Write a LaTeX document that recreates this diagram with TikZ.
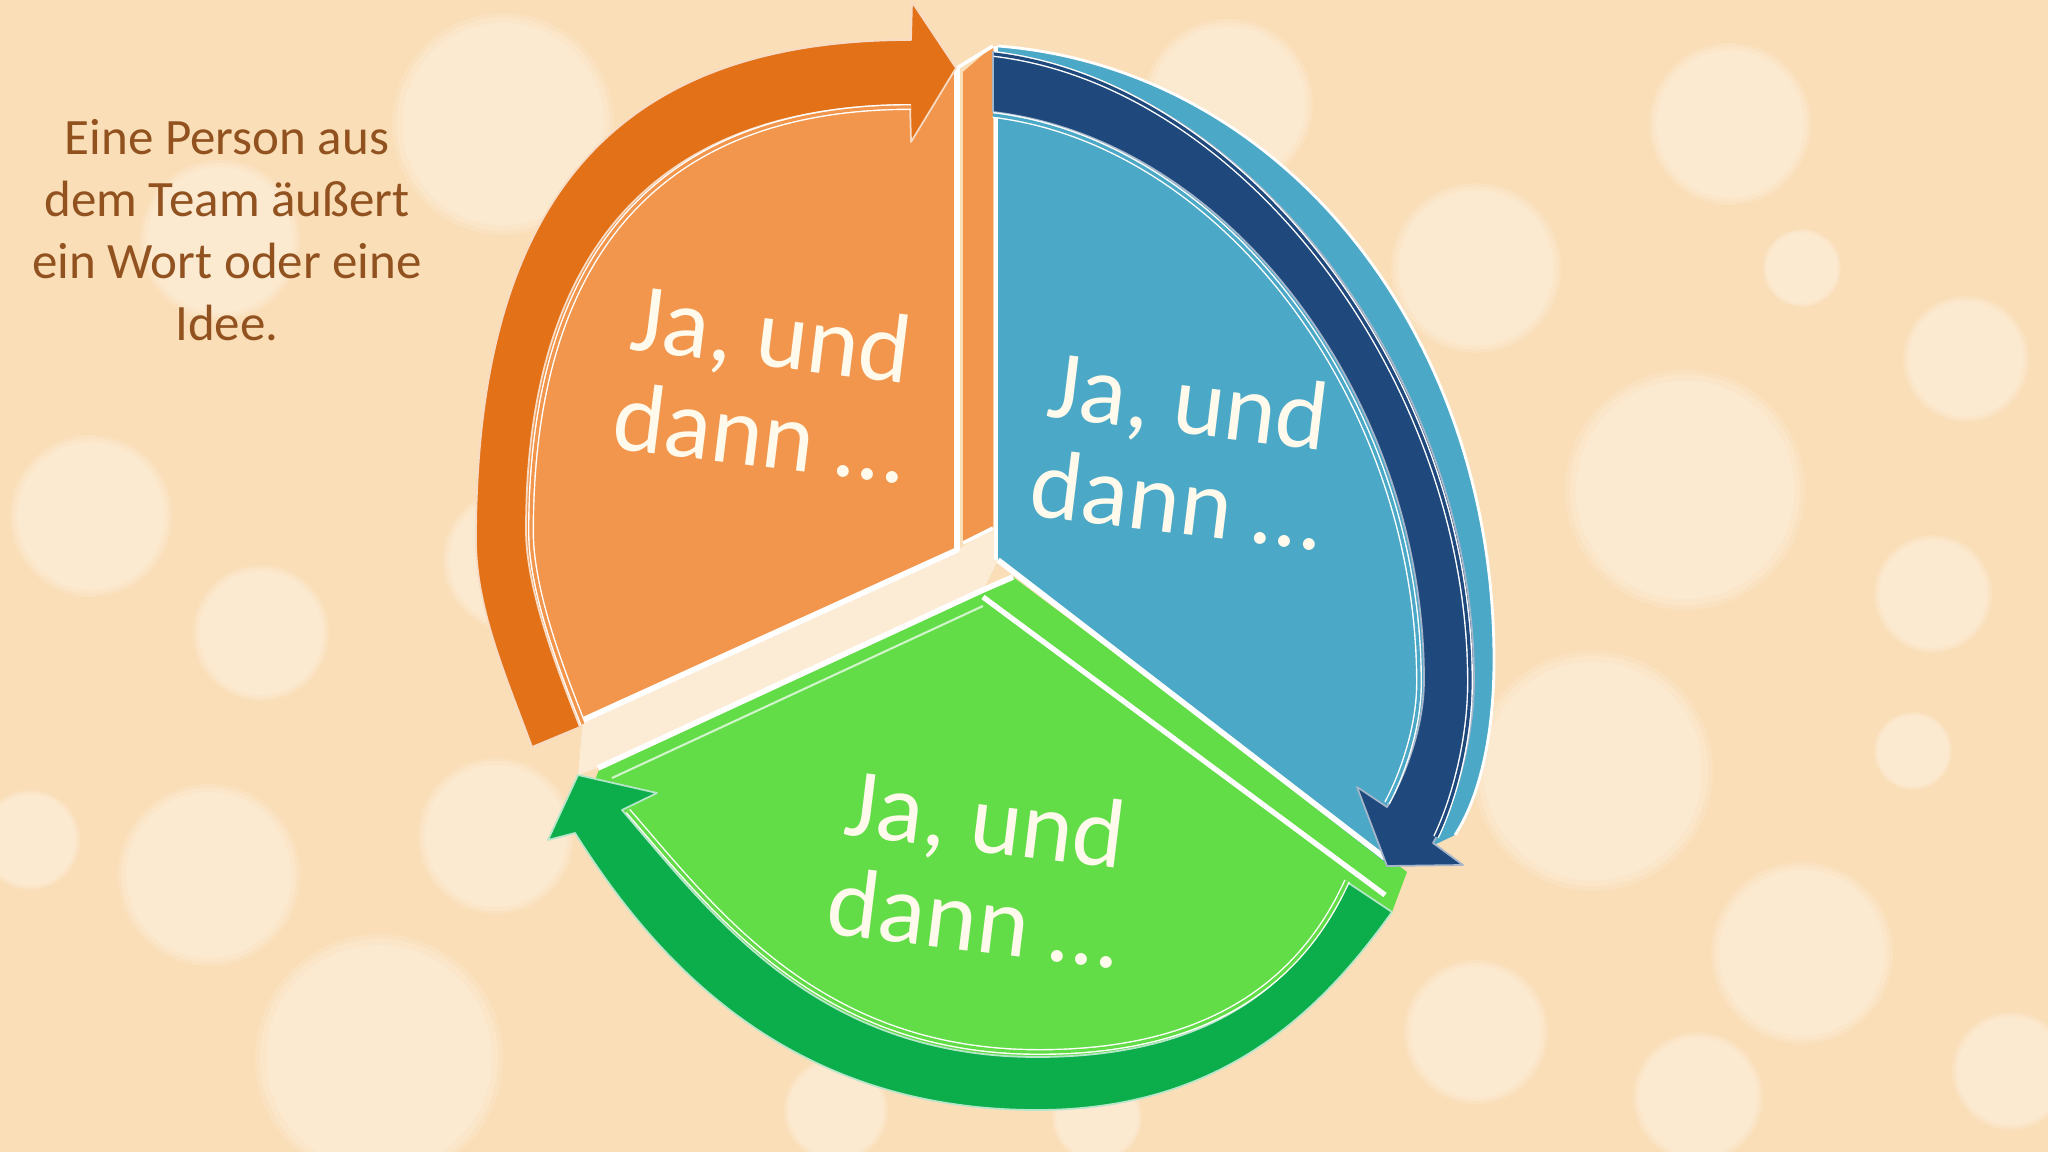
\documentclass[tikz,border=0pt]{standalone}
\usepackage{fontspec}
\setmainfont{Carlito}
\definecolor{bg}{RGB}{250,222,183}
\definecolor{bubble}{RGB}{253,238,218}
\definecolor{gapcream}{RGB}{252,236,214}
\definecolor{orface}{RGB}{241,150,76}
\definecolor{orarrow}{RGB}{226,113,24}
\definecolor{blface}{RGB}{75,168,198}
\definecolor{blarrow}{RGB}{31,73,125}
\definecolor{grface}{RGB}{98,221,72}
\definecolor{grarrow}{RGB}{12,173,75}
\definecolor{txtbrown}{RGB}{145,82,32}
\definecolor{txtcream}{RGB}{255,250,236}
\tikzset{
  jatext/.style={font=\fontsize{28}{28.5}\selectfont, text=txtcream, align=center, inner sep=0pt, rotate=-7},
  infotext/.style={font=\fontsize{14.5}{17.6}\selectfont, text=txtbrown, align=center, inner sep=0pt},
  bevel/.style={draw=white, line width=1.6pt},
  dbl/.style={draw=white, line width=0.4pt, double distance=0.9pt}
}
\begin{document}
\begin{tikzpicture}[x=0.01cm, y=-0.01cm, line join=round]
\useasboundingbox (0,0) rectangle (2048,1152);
\fill[bg] (0,0) rectangle (2048,1152);
% bokeh bubbles
\foreach \bx/\by/\br in {503/124/111, 220/240/80, 91/516/81, 261/633/68, 209/875/91, 379/1058/124, 496/836/78, 515/560/72, 1228/104/85, 1476/268/85, 1730/124/81, 1802/268/39, 1966/359/63, 1685/490/120, 1933/594/59, 1593/771/120, 1913/751/39, 1802/953/91, 1476/1032/72, 1698/1097/65, 2011/1071/59, 836/1110/52, 1097/1117/45, 30/840/50}{
  \fill[bubble, opacity=0.3] (\bx,\by) circle[radius=\br];
  \fill[bubble, opacity=0.35] (\bx,\by) circle[radius={0.96*\br}];
  \fill[bubble, opacity=0.45] (\bx,\by) circle[radius={0.91*\br}];
}
% cream gap between orange and green
\fill[gapcream] (583,720) -- (957,550) -- (993,528) -- (998,560) -- (983,590) -- (600,767) -- (578,775) -- cycle;

% ---------- orange segment ----------
\fill[orface] (532,747) .. controls (508,681) and (476,610) .. (476,540) .. controls (476,200) and (615,40) .. (911,40) -- (957,68) -- (957,550) -- (583,720) -- cycle;
\fill[orface] (963,72) -- (993,46) -- (993,528) -- (963,543) -- cycle;
\draw[bevel] (583,720) -- (957,550) -- (957,68);
\draw[draw=white, line width=1pt] (957,68) -- (993,46);
\draw[draw=white, line width=1pt] (963,543) -- (993,528);
\fill[orarrow, draw=white!75!orarrow, line width=0.5pt] (532,747) .. controls (508,681) and (476,610) .. (476,540) .. controls (476,200) and (615,40) .. (911,40) -- (912,2) -- (956,68) -- (911,142) -- (910,105) .. controls (657,105) and (526,250) .. (526,530) .. controls (526,590) and (558,671) .. (580,727) -- cycle;
\draw[dbl, double=orface, shift={(5,2)}] (906,105) .. controls (657,105) and (526,250) .. (526,530) .. controls (526,590) and (558,671) .. (578,722);

% ---------- green segment ----------
\fill[grface] (600,767) -- (983,590) -- (1013,577) -- (1407,872) -- (1392,912) .. controls (1317,1017) and (1217,1110) .. (1037,1110) .. controls (787,1110) and (655,960) .. (575,833) -- cycle;
\draw[bevel] (598,768) -- (983,590) -- (1013,577);
\draw[draw=white!70!grface, line width=0.6pt] (612,778) -- (983,606);
\draw[draw=white, line width=1.5pt] (983,597) -- (1385,895);
\fill[grarrow, draw=white!70!grarrow, line width=0.5pt] (575,833) .. controls (655,960) and (787,1110) .. (1037,1110) .. controls (1217,1110) and (1317,1017) .. (1392,912) -- (1347,882) .. controls (1300,985) and (1210,1057) .. (1037,1057) .. controls (817,1057) and (713,916) .. (622,810) -- (657,793) -- (578,775) -- (548,840) -- cycle;
\draw[dbl, double=grface, shift={(2,-5)}] (1345,886) .. controls (1300,985) and (1210,1057) .. (1037,1057) .. controls (817,1057) and (713,916) .. (626,816);

% ---------- blue segment ----------
\fill[blface] (998,46) .. controls (1280,68) and (1494,330) .. (1494,660) .. controls (1494,740) and (1478,800) .. (1455,835) -- (1390,866) -- (998,560) -- cycle;
\draw[draw=white, line width=0.8pt] (998,46) .. controls (1280,68) and (1494,330) .. (1494,660) .. controls (1494,740) and (1478,800) .. (1455,835);
\draw[draw=white, line width=1.2pt] (996,46) -- (996,560);
\draw[bevel] (998,560) -- (1385,858);
\fill[blarrow, draw=white!60!blarrow, line width=0.5pt] (993,52) .. controls (1250,82) and (1474,380) .. (1474,680) .. controls (1474,740) and (1455,805) .. (1433,843) -- (1463,865) -- (1387,866) -- (1357,787) -- (1387,807) .. controls (1403,780) and (1424,730) .. (1424,680) .. controls (1424,400) and (1230,140) .. (993,112) -- cycle;
\draw[dbl, double=blface, shift={(-5,3)}] (1392,800) .. controls (1403,780) and (1424,730) .. (1424,680) .. controls (1424,400) and (1230,140) .. (998,112);
\draw[dbl, double=blarrow, shift={(-4,2)}] (998,52) .. controls (1250,82) and (1474,380) .. (1474,680) .. controls (1474,740) and (1457,800) .. (1440,835);

% ---------- texts ----------
\node[jatext] (ja1) at (766,383) {Ja, und\\dann …};
\node[jatext] (ja2) at (1183,450) {Ja, und\\dann …};
\node[jatext] (ja3) at (980,868) {Ja, und\\dann …};
\node[infotext, anchor=north] (info) at (227,119) {Eine Person aus\\dem Team äußert\\ein Wort oder eine\\Idee.};
\end{tikzpicture}
\end{document}
